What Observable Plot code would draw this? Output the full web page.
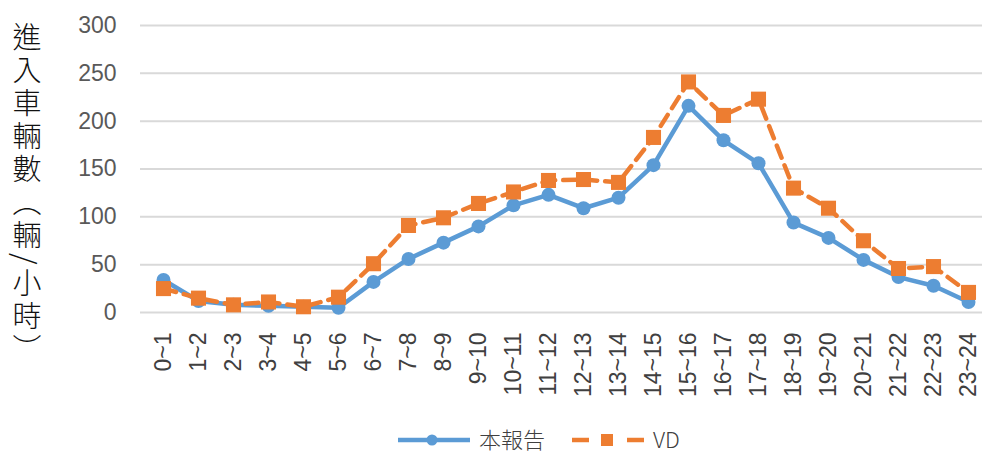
<!DOCTYPE html>
<html><head><meta charset="utf-8">
<script src="https://cdn.jsdelivr.net/npm/d3@7"></script>
<script src="https://cdn.jsdelivr.net/npm/@observablehq/plot@0.6"></script>
<style>
body{margin:0;background:#fff;font-family:"Noto Sans CJK TC","Noto Sans",sans-serif;}
#wrap{position:relative;width:982px;height:454px;}
#ytitle{position:absolute;left:11px;top:22px;writing-mode:vertical-rl;font-size:29px;font-weight:300;line-height:32px;color:#111;letter-spacing:4px;}
#chart{position:absolute;left:0;top:0;}
#legend{position:absolute;top:426px;left:396px;height:24px;display:flex;align-items:center;font-size:22px;font-weight:300;color:#404040;}
#legend svg{display:block}
#legend span{display:block;height:24px;line-height:24px;}
</style></head>
<body><div id="wrap"><div id="chart"></div><div id="ytitle">進入車輛數（輛/小時）</div><div id="legend"></div></div>
<script>
const hours = ["0~1","1~2","2~3","3~4","4~5","5~6","6~7","7~8","8~9","9~10","10~11","11~12","12~13","13~14","14~15","15~16","16~17","17~18","18~19","19~20","20~21","21~22","22~23","23~24"];
const report = [34,12,8,7,6,5,32,56,73,90,112,123,109,120,154,216,180,156,94,78,55,37,28,11];
const vd = [25,15,8,11,6,16,51,91,99,114,126,138,139,136,183,241,206,223,130,109,75,46,48,21];
const yTicks = [0,50,100,150,200,250,300];
const seriesNames = ["本報告","VD"];
const colors = ["#5B9BD5","#ED7D31"];

const rows1 = hours.map((h,i)=>({h, v: report[i]}));
const rows2 = hours.map((h,i)=>({h, v: vd[i]}));

const chart = Plot.plot({
  width: 982, height: 424,
  marginLeft: 140, marginRight: 0, marginTop: 25, marginBottom: 112,
  style: {fontFamily: "'Liberation Sans', Arial, sans-serif", background: "transparent"},
  x: {type: "point", domain: hours, range: [158, 972], padding: 0, label: null},
  y: {domain: [0,300], label: null},
  marks: [
    Plot.ruleY(yTicks, {stroke: "#d9d9d9", strokeWidth: 2}),
    Plot.axisY({ticks: yTicks, tickSize: 0, tickPadding: 24, fontSize: 23, fill: "#595959", label: null}),
    Plot.axisX({tickSize: 0, tickPadding: 20, tickRotate: -90, fontSize: 23, fill: "#404040", label: null}),
    Plot.line(rows1, {x: "h", y: "v", stroke: colors[0], strokeWidth: 4.5}),
    Plot.dot(rows1, {x: "h", y: "v", r: 7, fill: colors[0], symbol: "circle"}),
    Plot.line(rows2, {x: "h", y: "v", stroke: colors[1], strokeWidth: 4.5, strokeDasharray: "13,8"}),
    Plot.dot(rows2, {x: "h", y: "v", r: 8.5, fill: colors[1], symbol: "square"})
  ]
});
document.getElementById("chart").appendChild(chart);

const leg = document.getElementById("legend");
seriesNames.forEach((name,i)=>{
  const s = d3.create("svg").attr("width",76).attr("height",24);
  s.append("line").attr("x1",2).attr("x2",74).attr("y1",14).attr("y2",14)
    .attr("stroke",colors[i]).attr("stroke-width",4.5).attr("stroke-dasharray", i? "17,55":null);
  if(i===1) s.append("line").attr("x1",57).attr("x2",74).attr("y1",14).attr("y2",14)
    .attr("stroke",colors[i]).attr("stroke-width",4.5);
  if(i===0) s.append("circle").attr("cx",36).attr("cy",14).attr("r",5.5).attr("fill",colors[i]);
  else s.append("rect").attr("x",31).attr("y",8).attr("width",12).attr("height",12).attr("fill",colors[i]);
  const item = document.createElement("div");
  item.style.display="flex"; item.style.alignItems="center"; item.style.gap="7px";
  item.style.marginRight = i===0 ? "25px":"0";
  item.appendChild(s.node());
  const t = document.createElement("span"); t.textContent = name; item.appendChild(t);
  leg.appendChild(item);
});
</script></body></html>
